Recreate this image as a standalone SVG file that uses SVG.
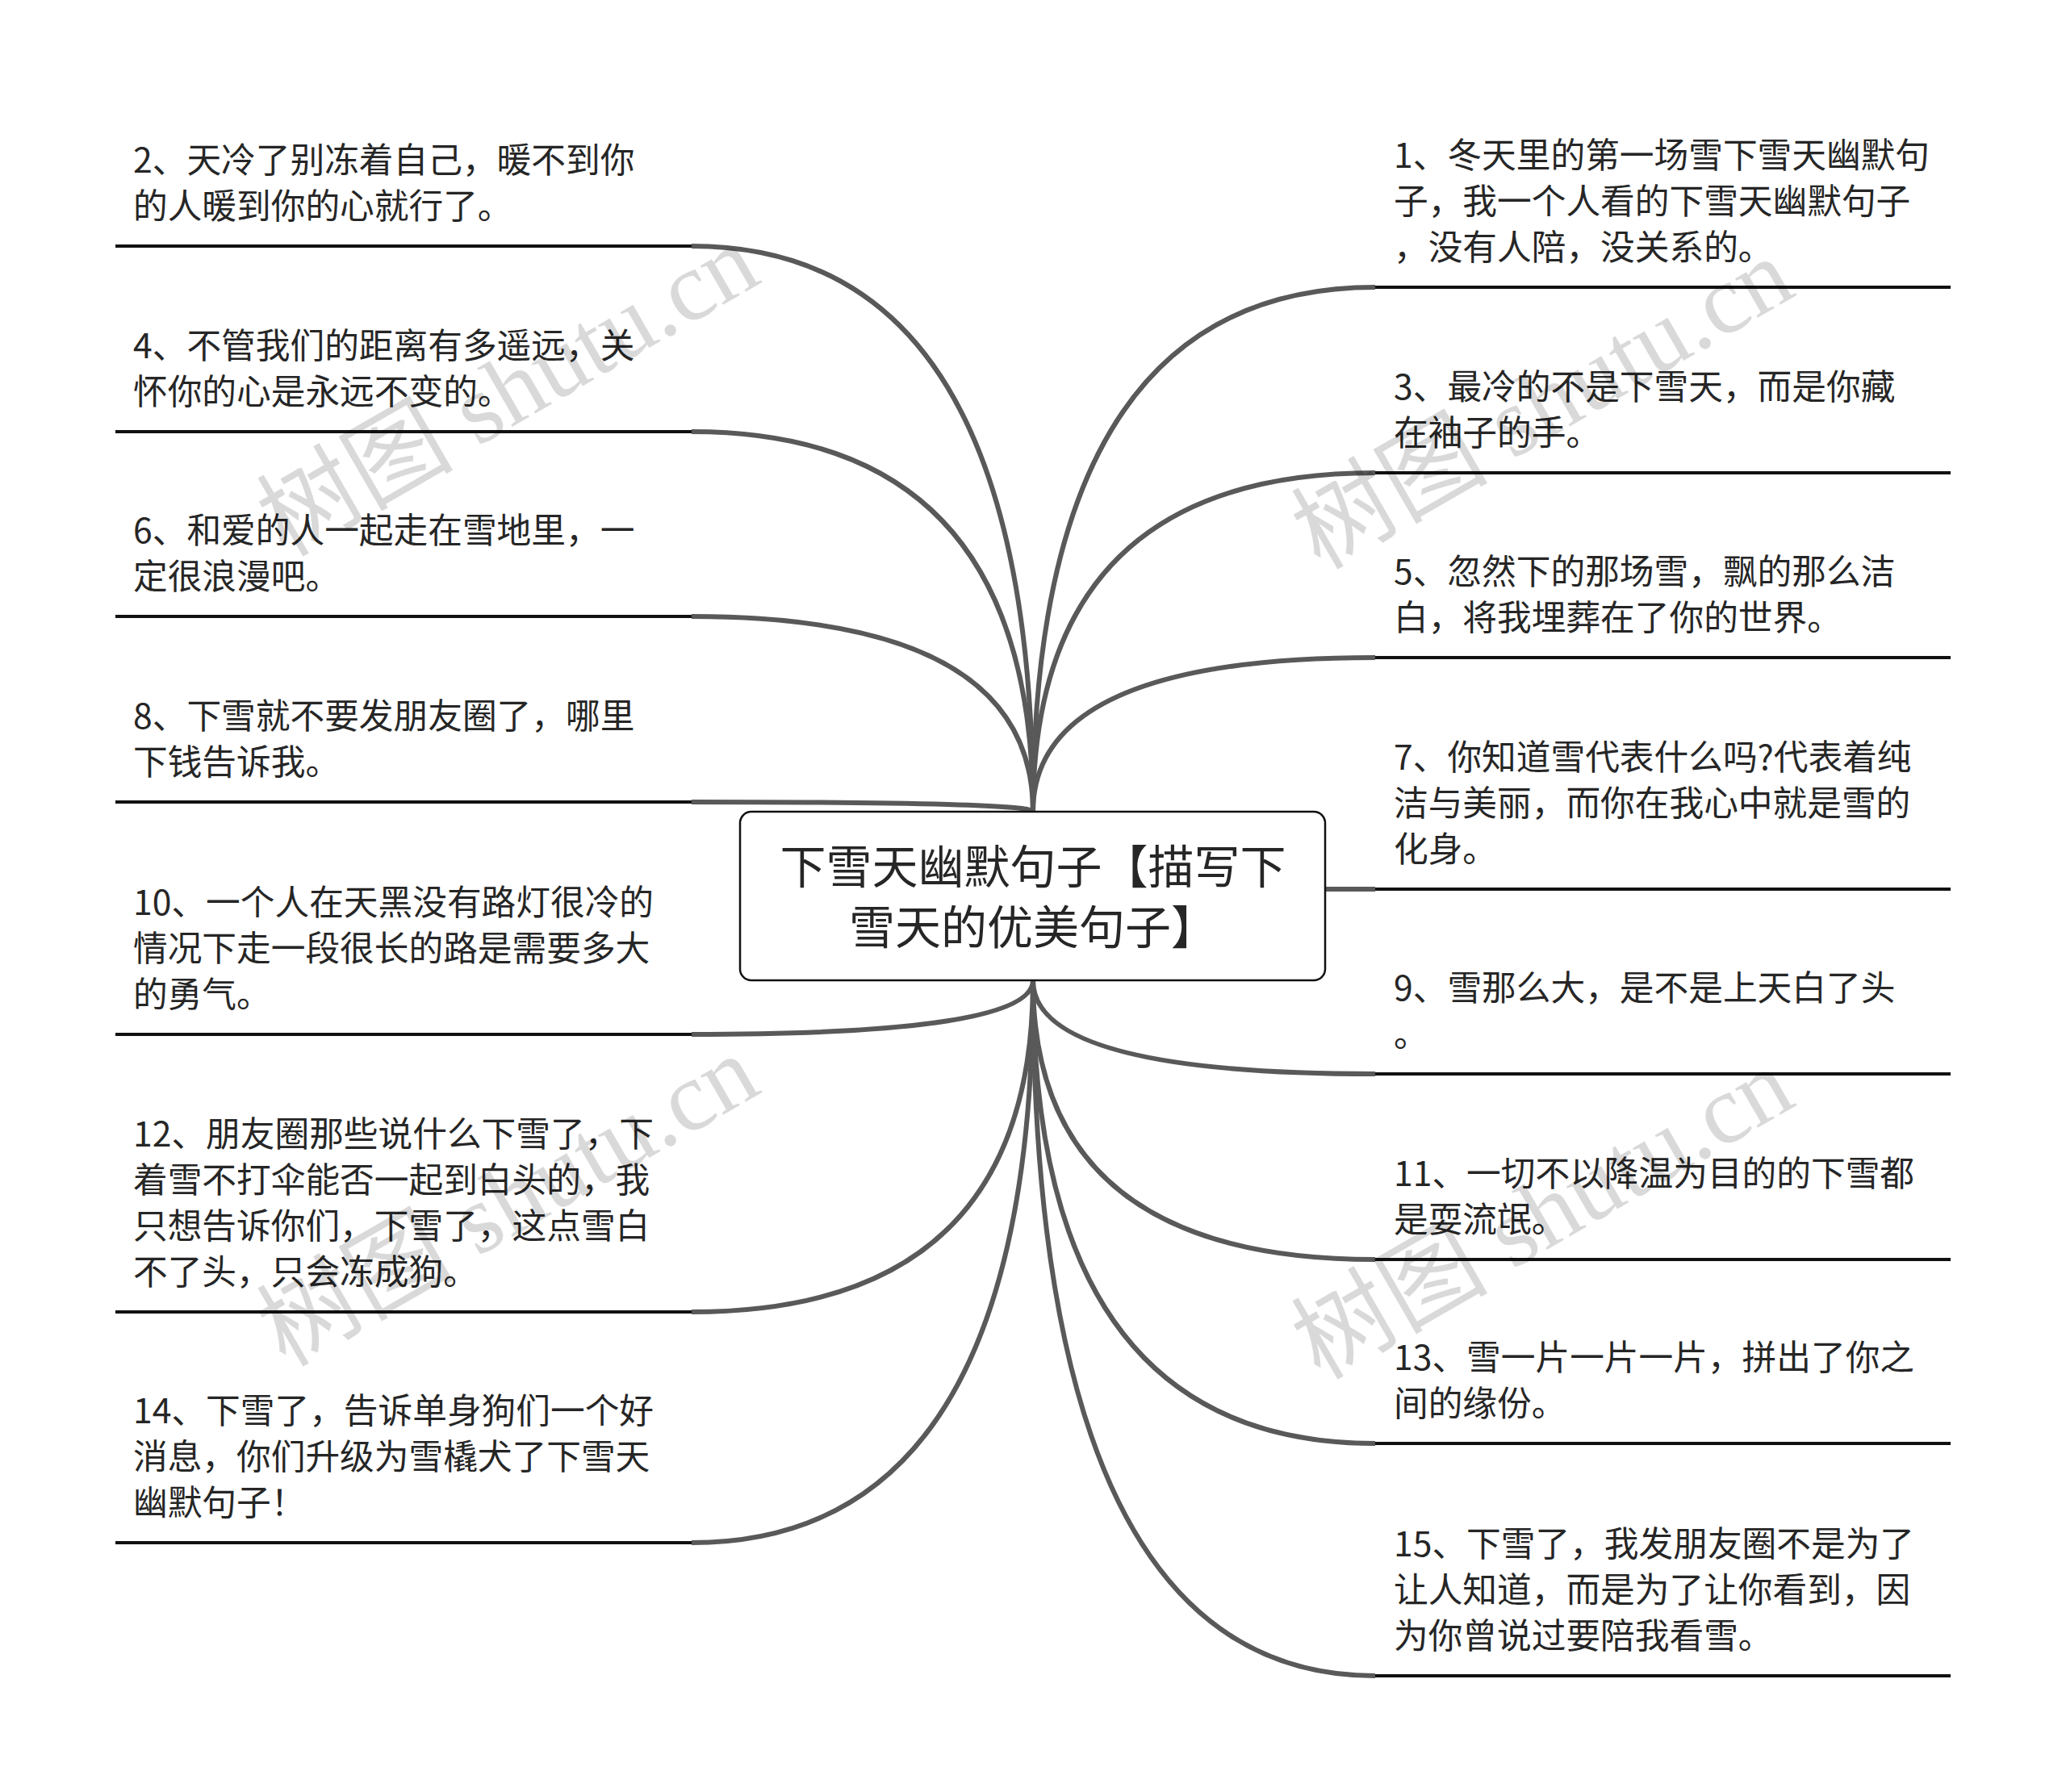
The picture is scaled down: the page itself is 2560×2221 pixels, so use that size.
<svg xmlns="http://www.w3.org/2000/svg" width="2560" height="2221" viewBox="0 0 2560 2221">
<style>
.t{font-family:"Noto Sans CJK SC","Noto Sans",sans-serif;font-size:42.7px;fill:#262626}
.title{font-family:"Noto Sans CJK SC","Noto Sans",sans-serif;font-size:57px;fill:#262626;text-anchor:middle}
.ul{stroke:#111;stroke-width:4;fill:none}
.c{stroke:#595959;stroke-width:6;fill:none;stroke-linecap:butt}
.wm{font-family:"Liberation Serif","Noto Sans CJK SC",serif;font-size:122px;fill:#000;fill-opacity:0.15}
</style>
<rect width="2560" height="2221" fill="#fff"/>
<g id="connectors">
<path class="c" d="M857,305 Q1280,305 1280,1006"/>
<path class="c" d="M857,535 Q1280,535 1280,1006"/>
<path class="c" d="M857,764 Q1280,764 1280,1006"/>
<path class="c" d="M857,994 Q1280,994 1280,1006"/>
<path class="c" d="M857,1282 Q1280,1282 1280,1215"/>
<path class="c" d="M857,1626 Q1280,1626 1280,1215"/>
<path class="c" d="M857,1912 Q1280,1912 1280,1215"/>
<path class="c" d="M1704,356 Q1280,356 1280,1006"/>
<path class="c" d="M1704,586 Q1280,586 1280,1006"/>
<path class="c" d="M1704,815 Q1280,815 1280,1006"/>
<path class="c" d="M1642,1102 L1704,1102"/>
<path class="c" d="M1704,1331 Q1280,1331 1280,1215"/>
<path class="c" d="M1704,1561 Q1280,1561 1280,1215"/>
<path class="c" d="M1704,1789 Q1280,1789 1280,1215"/>
<path class="c" d="M1704,2077 Q1280,2077 1280,1215"/>
</g>
<g id="center">
<rect x="917" y="1006" width="725" height="209" rx="14" fill="#fff" stroke="#111" stroke-width="2.5"/>
<text class="title" x="1280" y="1095">下雪天幽默句子【描写下</text>
<text class="title" x="1280" y="1170">雪天的优美句子】</text>
</g>
<g id="n2"><line class="ul" x1="143" y1="305" x2="857" y2="305"/>
<text class="t" x="165" y="214">2、天冷了别冻着自己，暖不到你</text>
<text class="t" x="165" y="271">的人暖到你的心就行了。</text></g>
<g id="n4"><line class="ul" x1="143" y1="535" x2="857" y2="535"/>
<text class="t" x="165" y="444">4、不管我们的距离有多遥远，关</text>
<text class="t" x="165" y="501">怀你的心是永远不变的。</text></g>
<g id="n6"><line class="ul" x1="143" y1="764" x2="857" y2="764"/>
<text class="t" x="165" y="673">6、和爱的人一起走在雪地里，一</text>
<text class="t" x="165" y="730">定很浪漫吧。</text></g>
<g id="n8"><line class="ul" x1="143" y1="994" x2="857" y2="994"/>
<text class="t" x="165" y="903">8、下雪就不要发朋友圈了，哪里</text>
<text class="t" x="165" y="960">下钱告诉我。</text></g>
<g id="n10"><line class="ul" x1="143" y1="1282" x2="857" y2="1282"/>
<text class="t" x="165" y="1134">10、一个人在天黑没有路灯很冷的</text>
<text class="t" x="165" y="1191">情况下走一段很长的路是需要多大</text>
<text class="t" x="165" y="1248">的勇气。</text></g>
<g id="n12"><line class="ul" x1="143" y1="1626" x2="857" y2="1626"/>
<text class="t" x="165" y="1421">12、朋友圈那些说什么下雪了，下</text>
<text class="t" x="165" y="1478">着雪不打伞能否一起到白头的，我</text>
<text class="t" x="165" y="1535">只想告诉你们，下雪了，这点雪白</text>
<text class="t" x="165" y="1592">不了头，只会冻成狗。</text></g>
<g id="n14"><line class="ul" x1="143" y1="1912" x2="857" y2="1912"/>
<text class="t" x="165" y="1764">14、下雪了，告诉单身狗们一个好</text>
<text class="t" x="165" y="1821">消息，你们升级为雪橇犬了下雪天</text>
<text class="t" x="165" y="1878">幽默句子！</text></g>
<g id="n1"><line class="ul" x1="1704" y1="356" x2="2417" y2="356"/>
<text class="t" x="1727" y="208">1、冬天里的第一场雪下雪天幽默句</text>
<text class="t" x="1727" y="265">子，我一个人看的下雪天幽默句子</text>
<text class="t" x="1727" y="322">，没有人陪，没关系的。</text></g>
<g id="n3"><line class="ul" x1="1704" y1="586" x2="2417" y2="586"/>
<text class="t" x="1727" y="495">3、最冷的不是下雪天，而是你藏</text>
<text class="t" x="1727" y="552">在袖子的手。</text></g>
<g id="n5"><line class="ul" x1="1704" y1="815" x2="2417" y2="815"/>
<text class="t" x="1727" y="724">5、忽然下的那场雪，飘的那么洁</text>
<text class="t" x="1727" y="781">白，将我埋葬在了你的世界。</text></g>
<g id="n7"><line class="ul" x1="1704" y1="1102" x2="2417" y2="1102"/>
<text class="t" x="1727" y="954">7、你知道雪代表什么吗?代表着纯</text>
<text class="t" x="1727" y="1011">洁与美丽，而你在我心中就是雪的</text>
<text class="t" x="1727" y="1068">化身。</text></g>
<g id="n9"><line class="ul" x1="1704" y1="1331" x2="2417" y2="1331"/>
<text class="t" x="1727" y="1240">9、雪那么大，是不是上天白了头</text>
<text class="t" x="1727" y="1297">。</text></g>
<g id="n11"><line class="ul" x1="1704" y1="1561" x2="2417" y2="1561"/>
<text class="t" x="1727" y="1470">11、一切不以降温为目的的下雪都</text>
<text class="t" x="1727" y="1527">是耍流氓。</text></g>
<g id="n13"><line class="ul" x1="1704" y1="1789" x2="2417" y2="1789"/>
<text class="t" x="1727" y="1698">13、雪一片一片一片，拼出了你之</text>
<text class="t" x="1727" y="1755">间的缘份。</text></g>
<g id="n15"><line class="ul" x1="1704" y1="2077" x2="2417" y2="2077"/>
<text class="t" x="1727" y="1929">15、下雪了，我发朋友圈不是为了</text>
<text class="t" x="1727" y="1986">让人知道，而是为了让你看到，因</text>
<text class="t" x="1727" y="2043">为你曾说过要陪我看雪。</text></g>
<g id="watermarks">
<text class="wm" text-anchor="middle" transform="translate(650,520) rotate(-30)">树图 shutu.cn</text>
<text class="wm" text-anchor="middle" transform="translate(1932,536) rotate(-30)">树图 shutu.cn</text>
<text class="wm" text-anchor="middle" transform="translate(650,1524) rotate(-30)">树图 shutu.cn</text>
<text class="wm" text-anchor="middle" transform="translate(1932,1540) rotate(-30)">树图 shutu.cn</text>
</g>
</svg>
